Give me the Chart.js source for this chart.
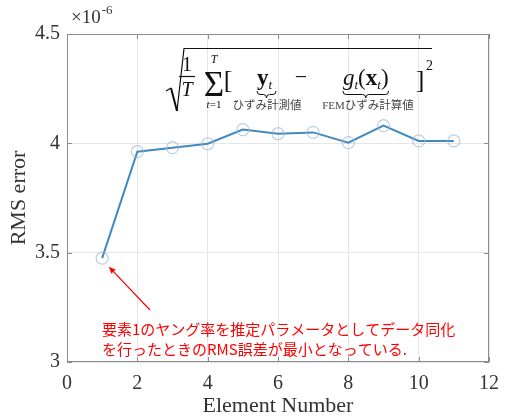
<!DOCTYPE html>
<html>
<head>
<meta charset="utf-8">
<script src="https://cdn.jsdelivr.net/npm/chart.js@4/dist/chart.umd.min.js"></script>
<style>
  html, body { margin: 0; padding: 0; background: #ffffff; }
  #wrap { width: 509px; height: 418px; }
</style>
</head>
<body>
<div id="wrap"><canvas id="c" width="509" height="418"></canvas></div>
<script>
// RMS error per element (values in units of 1e-6)
const elements = [1, 2, 3, 4, 5, 6, 7, 8, 9, 10, 11];
const rmsError = [3.475, 3.962, 3.980, 3.998, 4.063, 4.044, 4.050, 4.003, 4.081, 4.011, 4.011];
const xTicks = [0, 2, 4, 6, 8, 10, 12];
const yTicks = [3, 3.5, 4, 4.5];
const exponentLabel = ['\u00d710', '-6'];
const noteLines = [
  '要素1のヤング率を推定パラメータとしてデータ同化',
  'を行ったときのRMS誤差が最小となっている.'
];
const measuredLabel = 'ひずみ計測値';
const computedLabel = ['FEM', 'ひずみ計算値'];

const SERIF = "'Liberation Serif', 'Times New Roman', serif";
const JP = "'Noto Sans CJK JP', sans-serif";

function underbrace(ctx, x0, x1, y, h) {
  const xm = (x0 + x1) / 2;
  ctx.beginPath();
  ctx.moveTo(x0, y);
  ctx.quadraticCurveTo(x0, y + h / 2, x0 + 3, y + h / 2);
  ctx.lineTo(xm - 3, y + h / 2);
  ctx.quadraticCurveTo(xm, y + h / 2, xm, y + h);
  ctx.quadraticCurveTo(xm, y + h / 2, xm + 3, y + h / 2);
  ctx.lineTo(x1 - 3, y + h / 2);
  ctx.quadraticCurveTo(x1, y + h / 2, x1, y);
  ctx.stroke();
}

function text(ctx, s, x, y, font, align) {
  ctx.font = font;
  ctx.textAlign = align || 'left';
  ctx.fillText(s, x, y);
  return ctx.measureText(s).width;
}

// Box, inward ticks, exponent, formula and the note
const decorations = {
  id: 'decorations',
  afterDraw(chart) {
    const ctx = chart.ctx;
    const a = chart.chartArea;
    const xs = chart.scales.x, ys = chart.scales.y;
    ctx.save();

    // axes box and inward tick marks
    ctx.strokeStyle = '#8c8c8c';
    ctx.lineWidth = 1;
    ctx.strokeRect(a.left + 0.5, a.top + 0.5, a.right - a.left - 1, a.bottom - a.top - 1);
    ctx.beginPath();
    xTicks.forEach(v => {
      const px = Math.round(xs.getPixelForValue(v)) + 0.5;
      ctx.moveTo(px, a.bottom); ctx.lineTo(px, a.bottom - 5);
      ctx.moveTo(px, a.top); ctx.lineTo(px, a.top + 5);
    });
    yTicks.forEach(v => {
      const py = Math.round(ys.getPixelForValue(v)) + 0.5;
      ctx.moveTo(a.left, py); ctx.lineTo(a.left + 5, py);
      ctx.moveTo(a.right, py); ctx.lineTo(a.right - 5, py);
    });
    ctx.stroke();

    // exponent of the y axis
    ctx.fillStyle = '#333';
    ctx.textBaseline = 'alphabetic';
    const w = text(ctx, exponentLabel[0], a.left + 4, a.top - 11, '19px ' + SERIF);
    text(ctx, exponentLabel[1], a.left + 4 + w + 1, a.top - 20, '13px ' + SERIF);

    // RMS formula
    ctx.fillStyle = '#111';
    ctx.strokeStyle = '#111';
    ctx.lineWidth = 1.2;
    ctx.beginPath();
    ctx.moveTo(166, 91); ctx.lineTo(171, 88);
    ctx.stroke();
    ctx.lineWidth = 2;
    ctx.beginPath();
    ctx.moveTo(171, 88); ctx.lineTo(177, 111);
    ctx.stroke();
    ctx.lineWidth = 1.2;
    ctx.beginPath();
    ctx.moveTo(177, 111); ctx.lineTo(184, 48.5); ctx.lineTo(432, 48.5);
    ctx.stroke();

    text(ctx, '1', 187, 71, '20px ' + SERIF, 'center');
    ctx.beginPath(); ctx.moveTo(179, 76.5); ctx.lineTo(195, 76.5); ctx.stroke();
    text(ctx, 'T', 187, 96, 'italic 20px ' + SERIF, 'center');

    text(ctx, '\u03a3', 214, 96, '35px ' + SERIF, 'center');
    text(ctx, 'T', 214, 63, 'italic 12px ' + SERIF, 'center');
    ctx.font = 'italic 11px ' + SERIF;
    const tw = ctx.measureText('t').width;
    ctx.font = '11px ' + SERIF;
    const ew = ctx.measureText('=1').width;
    const sx = 214 - (tw + ew) / 2;
    text(ctx, 't', sx, 108, 'italic 11px ' + SERIF);
    text(ctx, '=1', sx + tw, 108, '11px ' + SERIF);

    text(ctx, '[', 228, 88, '26px ' + SERIF, 'center');

    // measured strain y_t
    let x = 257;
    x += text(ctx, 'y', x, 85, 'bold 23px ' + SERIF);
    text(ctx, 't', x, 89, 'italic 13px ' + SERIF);
    ctx.lineWidth = 1;
    underbrace(ctx, 257, 276, 91, 7);

    text(ctx, '\u2212', 301, 84, '22px ' + SERIF, 'center');

    // computed strain g_t(x_t)
    x = 343;
    x += text(ctx, 'g', x, 85, 'italic 23px ' + SERIF);
    x += text(ctx, 't', x, 89, 'italic 13px ' + SERIF);
    x += text(ctx, '(', x, 85, '23px ' + SERIF);
    x += text(ctx, 'x', x, 85, 'bold 23px ' + SERIF);
    x += text(ctx, 't', x, 89, 'italic 13px ' + SERIF);
    x += text(ctx, ')', x, 85, '23px ' + SERIF);
    underbrace(ctx, 343, x, 91, 7);

    text(ctx, ']', 420, 88, '26px ' + SERIF, 'center');
    text(ctx, '2', 426, 70, '14px ' + SERIF);

    // labels under the braces
    ctx.fillStyle = '#444';
    text(ctx, measuredLabel, 267, 109, '11.5px ' + JP, 'center');
    ctx.font = '11px ' + SERIF;
    const fw = ctx.measureText(computedLabel[0]).width;
    ctx.font = '11.5px ' + JP;
    const jw = ctx.measureText(computedLabel[1]).width;
    const cx0 = 368 - (fw + jw) / 2;
    text(ctx, computedLabel[0], cx0, 109, '11px ' + SERIF);
    text(ctx, computedLabel[1], cx0 + fw, 109, '11.5px ' + JP);

    // note with arrow to the smallest error
    const px = xs.getPixelForValue(elements[0]);
    const py = ys.getPixelForValue(rmsError[0]);
    const tx = 150, ty = 310;
    const ang = Math.atan2(py + 9 - ty, px + 7 - tx);
    const hx = px + 7, hy = py + 9;
    ctx.strokeStyle = '#ff0000';
    ctx.fillStyle = '#ff0000';
    ctx.lineWidth = 1.2;
    ctx.beginPath(); ctx.moveTo(tx, ty); ctx.lineTo(hx, hy); ctx.stroke();
    ctx.beginPath();
    ctx.moveTo(hx, hy);
    ctx.lineTo(hx - 7 * Math.cos(ang - 0.45), hy - 7 * Math.sin(ang - 0.45));
    ctx.lineTo(hx - 7 * Math.cos(ang + 0.45), hy - 7 * Math.sin(ang + 0.45));
    ctx.closePath(); ctx.fill();
    ctx.textBaseline = 'middle';
    text(ctx, noteLines[0], 102, 329, '15px ' + JP);
    text(ctx, noteLines[1], 102, 349, '15px ' + JP);

    ctx.restore();
  }
};

new Chart(document.getElementById('c'), {
  type: 'scatter',
  data: {
    datasets: [{
      data: elements.map((e, i) => ({ x: e, y: rmsError[i] })),
      showLine: true,
      borderColor: '#4289bf',
      borderWidth: 2,
      pointRadius: 6,
      pointBorderWidth: 1.2,
      pointBorderColor: 'rgba(160,185,210,0.7)',
      pointBackgroundColor: 'rgba(0,0,0,0)'
    }]
  },
  options: {
    responsive: false,
    animation: false,
    devicePixelRatio: 1,
    layout: { padding: { top: 34, right: 12, left: 0, bottom: 0 } },
    plugins: { legend: { display: false }, tooltip: { enabled: false } },
    scales: {
      x: {
        type: 'linear', min: 0, max: 12,
        afterFit(s) { s.height = 56; },
        afterBuildTicks(s) { s.ticks = xTicks.map(v => ({ value: v })); },
        ticks: { font: { family: SERIF, size: 20 }, color: '#333', padding: 10 },
        grid: { color: '#e6e6e6', drawTicks: false },
        border: { display: false },
        title: { display: true, text: 'Element Number', color: '#333',
                 font: { family: SERIF, size: 22, lineHeight: 1 }, padding: { top: 0, bottom: 1 } }
      },
      y: {
        type: 'linear', min: 3, max: 4.5,
        afterFit(s) { s.width = 67; },
        afterBuildTicks(s) { s.ticks = yTicks.map(v => ({ value: v })); },
        ticks: { font: { family: SERIF, size: 20 }, color: '#333', padding: 7,
                 callback: v => String(v) },
        grid: { color: '#e6e6e6', drawTicks: false },
        border: { display: false },
        title: { display: true, text: 'RMS error', color: '#333',
                 font: { family: SERIF, size: 22, lineHeight: 1 }, padding: { top: 8, bottom: 0 } }
      }
    }
  },
  plugins: [decorations]
});
</script>
</body>
</html>
